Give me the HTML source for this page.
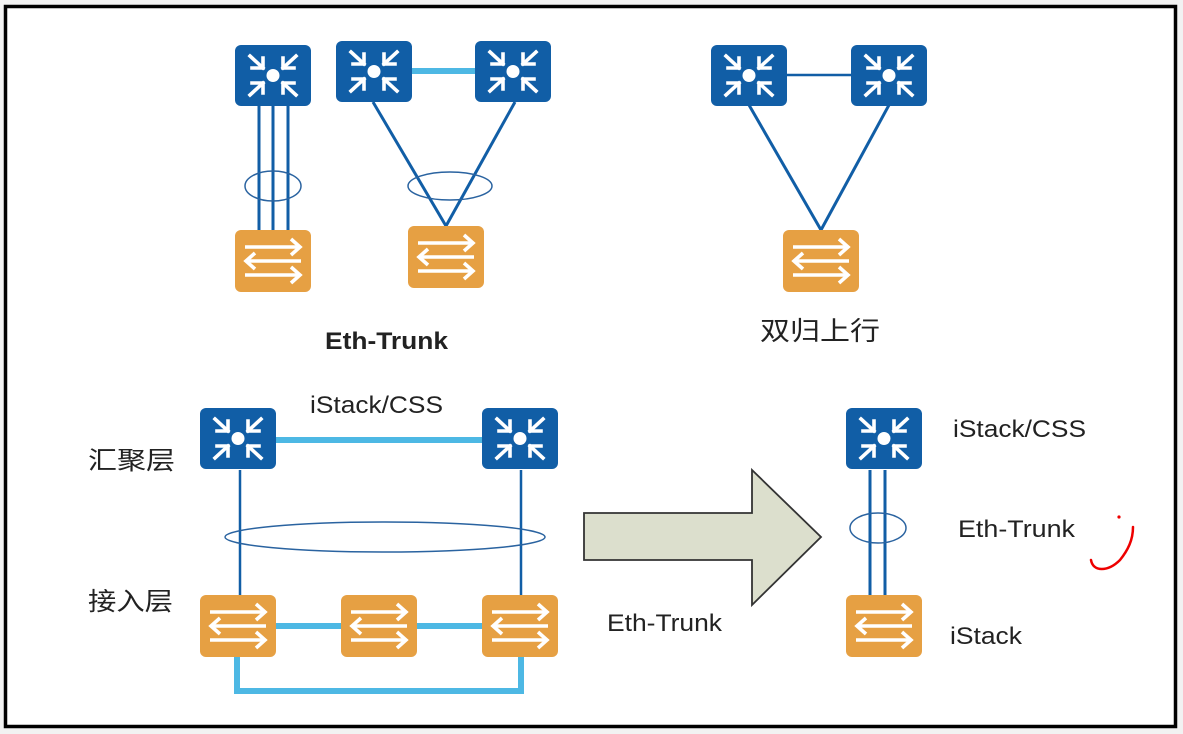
<!DOCTYPE html>
<html><head><meta charset="utf-8"><style>
html,body{margin:0;padding:0;background:#f2f2f2}
#c{position:relative;width:1183px;height:734px;background:#f2f2f2;overflow:hidden}
svg{position:absolute;left:0;top:0}
text{font-family:"Liberation Sans","Noto Sans CJK SC",sans-serif;fill:#222}
</style></head><body><div id="c">
<svg width="1183" height="734" viewBox="0 0 1183 734">
<defs>
<g id="sw">
<rect x="0" y="0" width="76" height="61" rx="6" fill="#115ea6"/>
<circle cx="38" cy="30.5" r="6.5" fill="#fff"/>
<g stroke="#fff" stroke-width="3.6" fill="none" stroke-linecap="square">
<line x1="15" y1="11" x2="28" y2="23"/><polyline points="17,23 28,23 28,13"/>
<line x1="61" y1="11" x2="48" y2="23"/><polyline points="59,23 48,23 48,13"/>
<line x1="15" y1="50" x2="28" y2="38"/><polyline points="17,38 28,38 28,48"/>
<line x1="61" y1="50" x2="48" y2="38"/><polyline points="59,38 48,38 48,48"/>
</g></g>
<g id="ac">
<rect x="0" y="0" width="76" height="62" rx="6" fill="#e6a043"/>
<g stroke="#fff" stroke-width="3.6" fill="none">
<line x1="10" y1="17" x2="64" y2="17"/><polyline points="56,9 65,17 56,25"/>
<line x1="12" y1="31" x2="66" y2="31"/><polyline points="20,23 11,31 20,39"/>
<line x1="10" y1="45" x2="64" y2="45"/><polyline points="56,37 65,45 56,53"/>
</g></g>
</defs>
<rect x="5.5" y="6.5" width="1170" height="720" fill="#fff" stroke="#000" stroke-width="3.5"/>

<g stroke="#115ea6" stroke-width="3">
<line x1="259" y1="105" x2="259" y2="231"/><line x1="273" y1="105" x2="273" y2="231"/><line x1="288" y1="105" x2="288" y2="231"/>
</g>
<ellipse cx="273" cy="186" rx="28" ry="15" fill="none" stroke="#2a63a0" stroke-width="1.5"/>
<use href="#sw" x="235" y="45"/>
<use href="#ac" x="235" y="230"/>

<line x1="410" y1="71" x2="476" y2="71" stroke="#4db8e4" stroke-width="6"/>
<g stroke="#115ea6" stroke-width="3"><line x1="373" y1="102" x2="446" y2="226"/><line x1="515" y1="102" x2="446" y2="226"/></g>
<ellipse cx="450" cy="186" rx="42" ry="14" fill="none" stroke="#2a63a0" stroke-width="1.5"/>
<use href="#sw" x="336" y="41"/>
<use href="#sw" x="475" y="41"/>
<use href="#ac" x="408" y="226"/>
<text x="325" y="349" font-size="24" font-weight="bold" textLength="123" lengthAdjust="spacingAndGlyphs">Eth-Trunk</text>

<line x1="786" y1="75" x2="851" y2="75" stroke="#115ea6" stroke-width="2.5"/>
<g stroke="#115ea6" stroke-width="3"><line x1="749" y1="105" x2="821" y2="230"/><line x1="889" y1="105" x2="821" y2="230"/></g>
<use href="#sw" x="711" y="45"/>
<use href="#sw" x="851" y="45"/>
<use href="#ac" x="783" y="230"/>
<text x="760" y="340" font-size="26" textLength="120" lengthAdjust="spacingAndGlyphs">双归上行</text>

<line x1="275" y1="440" x2="484" y2="440" stroke="#4db8e4" stroke-width="6"/>
<g stroke="#115ea6" stroke-width="2.5"><line x1="240" y1="470" x2="240" y2="596"/><line x1="521" y1="470" x2="521" y2="596"/></g>
<ellipse cx="385" cy="537" rx="160" ry="15" fill="none" stroke="#2a63a0" stroke-width="1.5"/>
<line x1="275" y1="626" x2="484" y2="626" stroke="#4db8e4" stroke-width="6"/>
<polyline points="237,655 237,691 521,691 521,655" fill="none" stroke="#4db8e4" stroke-width="6"/>
<use href="#sw" x="200" y="408"/>
<use href="#sw" x="482" y="408"/>
<use href="#ac" x="200" y="595"/>
<use href="#ac" x="341" y="595"/>
<use href="#ac" x="482" y="595"/>
<text x="310" y="413" font-size="24" textLength="133" lengthAdjust="spacingAndGlyphs">iStack/CSS</text>
<text x="88" y="469" font-size="25" textLength="87" lengthAdjust="spacingAndGlyphs">汇聚层</text>
<text x="88" y="610" font-size="25" textLength="85" lengthAdjust="spacingAndGlyphs">接入层</text>

<polygon points="584,513 752,513 752,470 821,537 752,605 752,560 584,560" fill="#dcdfcd" stroke="#333" stroke-width="1.8"/>
<text x="607" y="631" font-size="24" textLength="115" lengthAdjust="spacingAndGlyphs">Eth-Trunk</text>

<g stroke="#115ea6" stroke-width="3"><line x1="870" y1="470" x2="870" y2="596"/><line x1="885" y1="470" x2="885" y2="596"/></g>
<ellipse cx="878" cy="528" rx="28" ry="15" fill="none" stroke="#2a63a0" stroke-width="1.5"/>
<use href="#sw" x="846" y="408"/>
<use href="#ac" x="846" y="595"/>
<text x="953" y="437" font-size="24" textLength="133" lengthAdjust="spacingAndGlyphs">iStack/CSS</text>
<text x="958" y="537" font-size="24" textLength="117" lengthAdjust="spacingAndGlyphs">Eth-Trunk</text>
<text x="950" y="644" font-size="24" textLength="72" lengthAdjust="spacingAndGlyphs">iStack</text>
<circle cx="1119" cy="517" r="1.6" fill="#e00"/>
<path d="M1091,560 C1093,572 1108,572 1120,560 C1128,550 1133,540 1133,527" fill="none" stroke="#e00" stroke-width="2.5" stroke-linecap="round"/>
</svg>
</div></body></html>
